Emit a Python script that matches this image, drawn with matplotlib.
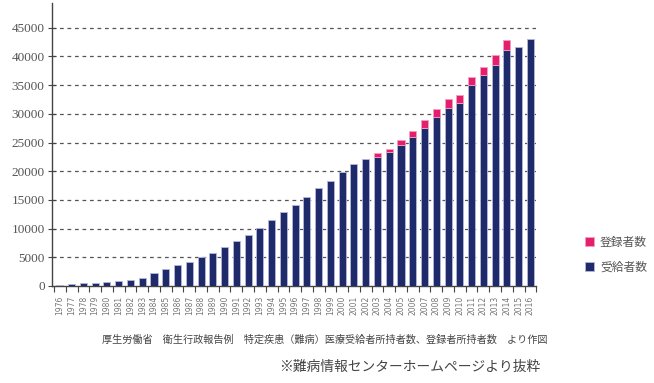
import matplotlib
matplotlib.use('Agg')
import matplotlib.pyplot as plt
import numpy as np

plt.rcParams['font.family'] = ['Noto Sans CJK JP', 'DejaVu Sans']

# 年度
years = [str(y) for y in range(1976, 2017)]

# 受給者数
recipients = [200, 350, 460, 580, 750, 930, 1100, 1450, 2260, 2900,
              3600, 4180, 5000, 5750, 6740, 7780, 8940, 10100, 11440, 12890,
              14110, 15560, 17010, 18230, 19800, 21250, 22130, 22530, 23400, 24560,
              26020, 27580, 29440, 31070, 31940, 35020, 36760, 38560, 41170, 41580,
              43090]

# 登録者数 (2003-2014)
registered = [0] * 27 + [580, 530, 880, 980, 1340, 1400, 1450, 1280,
                         1390, 1390, 1630, 1630, 0, 0]

navy = '#1e2a6a'
pink = '#e61e6e'
edge = '#b4b8dc'

fig = plt.figure(figsize=(6.54, 3.83), dpi=100)
ax = fig.add_axes([0.079, 0.2533, 0.741, 0.7387])

x = np.arange(len(years))
rec = np.array(recipients)
reg = np.array(registered)
has_reg = reg > 0

ax.bar(x, rec, width=0.6, color=navy, edgecolor=edge, linewidth=0.6,
       label='受給者数', zorder=3)
ax.bar(x[has_reg], reg[has_reg], width=0.6, bottom=rec[has_reg], color=pink,
       edgecolor='#f2a0c0', linewidth=0.6, label='登録者数', zorder=3)

ax.set_xlim(-0.7, 40.5)
ax.set_ylim(0, 49300)

ax.set_yticks(range(0, 45001, 5000))
ax.set_yticklabels([str(v) for v in range(0, 45001, 5000)],
                   family='Liberation Serif', fontsize=9.5, color='#555555')
ax.tick_params(axis='y', direction='inout', length=6, width=0.8, color='#444444', pad=2)

ax.set_xticks(x)
ax.set_xticklabels(years, rotation=90, fontsize=5.5, color='#777777',
                   family='DejaVu Sans')
ax.set_xticks(np.arange(-0.5, 41, 1), minor=True)
ax.tick_params(axis='x', which='major', length=0, pad=7)
ax.tick_params(axis='x', which='minor', length=4, width=0.8, color='#444444')

# 破線のグリッド
for v in range(5000, 45001, 5000):
    ax.axhline(v, color='#555555', linewidth=0.9, linestyle=(0, (3, 3)), zorder=1)

for s in ['top', 'right']:
    ax.spines[s].set_visible(False)
for s in ['left', 'bottom']:
    ax.spines[s].set_color('#444444')
    ax.spines[s].set_linewidth(1)

handles, labels = ax.get_legend_handles_labels()
leg = fig.legend(handles[::-1], labels[::-1], loc='lower left',
                 bbox_to_anchor=(0.885, 0.27), frameon=False, fontsize=8.5,
                 handlelength=0.8, handleheight=0.8, handletextpad=0.5,
                 labelspacing=1.0, borderpad=0)
for t in leg.get_texts():
    t.set_color('#555555')

fig.text(0.497, 0.112,
         '厚生労働省　衛生行政報告例　特定疾患（難病）医療受給者所持者数、登録者所持者数　より作図',
         ha='center', va='center', fontsize=7.3, color='#444444')
fig.text(0.826, 0.042, '※難病情報センターホームページより抜粋',
         ha='right', va='center', fontsize=9.9, color='#444444')

fig.savefig('out.png', dpi=100)
